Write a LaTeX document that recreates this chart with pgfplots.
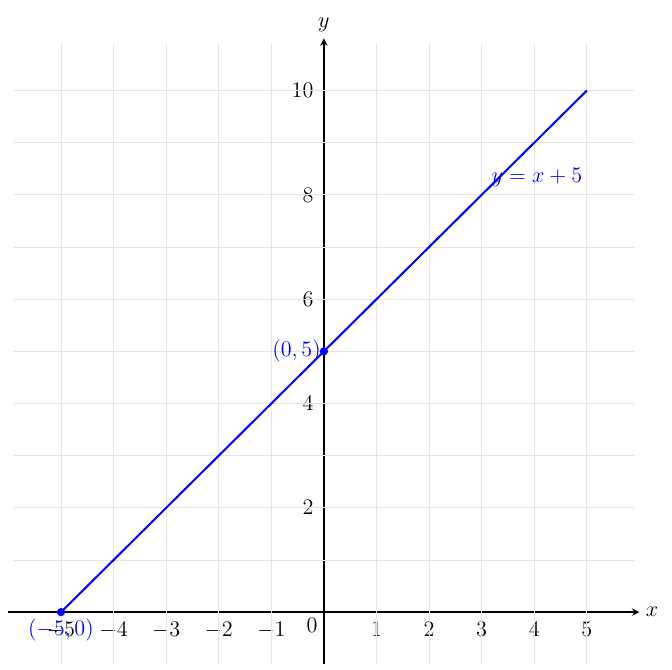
\documentclass[border=0pt]{standalone}
\usepackage{pgfplots}
\pgfplotsset{compat=1.18}
\begin{document}
\begin{tikzpicture}[font=\large]
\begin{axis}[
  name=ax,
  x=1cm, y=0.992cm,
  axis lines=middle,
  xmin=-6, xmax=6, ymin=-1, ymax=11,
  xtick={-5,-4,-3,-2,-1,1,2,3,4,5},
  ytick={2,4,6,8,10},
  ticklabel style={font=\large},
  label style={font=\large},
  axis line style={line width=0.8pt},
  tick style={black, line width=0.6pt},
  xlabel={$x$}, ylabel={$y$},
  xlabel style={at={(axis cs:6,0)}, anchor=west},
  ylabel style={at={(axis cs:0,11)}, anchor=south},
  clip=false,
]
% light grid
\pgfplotsinvokeforeach{-5,...,-1}{\draw[gray!20] (axis cs:#1,-1) -- (axis cs:#1,10.9);}
\pgfplotsinvokeforeach{1,...,5}{\draw[gray!20] (axis cs:#1,-1) -- (axis cs:#1,10.9);}
\pgfplotsinvokeforeach{1,...,10}{\draw[gray!20] (axis cs:-5.9,#1) -- (axis cs:5.9,#1);}

\addplot[blue, line width=1.1pt] coordinates {(-5,0) (5,10)};
\addplot[only marks, mark=*, mark size=2pt, blue] coordinates {(-5,0) (0,5)};

\node[blue, below, font=\large] at (axis cs:-5,0) {$(-5,0)$};
\node[blue, left, inner sep=1.5pt, font=\large] at (axis cs:0,5) {$(0,5)$};
\node[blue, font=\large] at (axis cs:4.05,8.33) {$y=x+5$};
\node[below left, font=\large] at (axis cs:0,0) {$0$};
\end{axis}
\pgfresetboundingbox
\path ([shift={(-0.16cm,-0.09cm)}]ax.south west) rectangle ([shift={(0.62cm,0.73cm)}]ax.north east);
\end{tikzpicture}
\end{document}
